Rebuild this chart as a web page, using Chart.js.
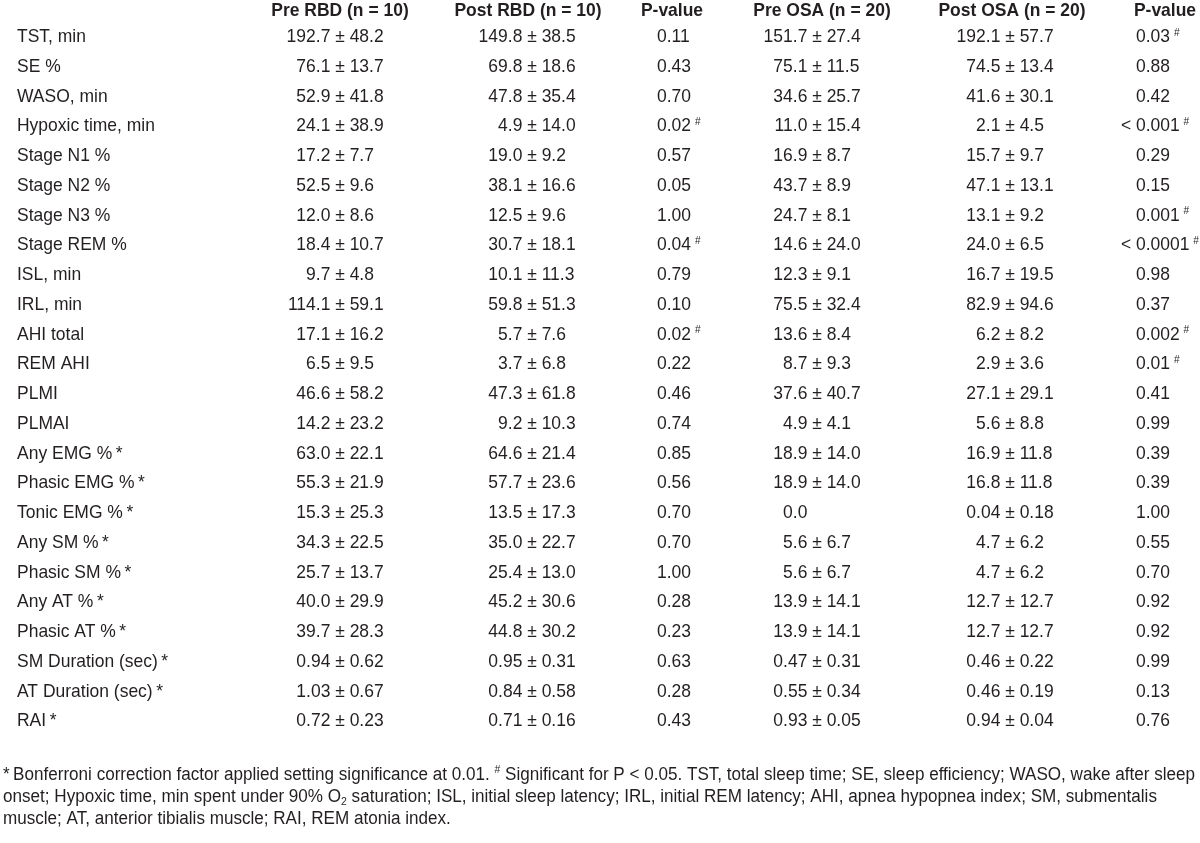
<!DOCTYPE html>
<html>
<head>
<meta charset="utf-8">
<title>Sleep measures, RBD vs OSA</title>
<script src="https://cdn.jsdelivr.net/npm/chart.js@4.4.1/dist/chart.umd.min.js"></script>
<style>
  html, body { margin: 0; padding: 0; background: #fff; }
  #wrap { width: 1200px; height: 843px; position: relative; }
</style>
</head>
<body>
<div id="wrap"><canvas id="tbl"></canvas></div>
<script>
// rows (y categories, top to bottom)
const rowLabels = [
  'TST, min', 'SE %', 'WASO, min', 'Hypoxic time, min', 'Stage N1 %', 'Stage N2 %',
  'Stage N3 %', 'Stage REM %', 'ISL, min', 'IRL, min', 'AHI total', 'REM AHI',
  'PLMI', 'PLMAI', 'Any EMG %\u2009*', 'Phasic EMG %\u2009*', 'Tonic EMG %\u2009*',
  'Any SM %\u2009*', 'Phasic SM %\u2009*', 'Any AT %\u2009*', 'Phasic AT %\u2009*',
  'SM Duration (sec)\u2009*', 'AT Duration (sec)\u2009*', 'RAI\u2009*'
];

const headers = ['Pre RBD (n = 10)', 'Post RBD (n = 10)', 'P-value',
                 'Pre OSA (n = 20)', 'Post OSA (n = 20)', 'P-value'];

// RBD group (mean, sd)
const preRbdMean = ['192.7', '76.1', '52.9', '24.1', '17.2', '52.5', '12.0', '18.4', '9.7', '114.1', '17.1', '6.5',
                    '46.6', '14.2', '63.0', '55.3', '15.3', '34.3', '25.7', '40.0', '39.7', '0.94', '1.03', '0.72'];
const preRbdSd   = ['48.2', '13.7', '41.8', '38.9', '7.7', '9.6', '8.6', '10.7', '4.8', '59.1', '16.2', '9.5',
                    '58.2', '23.2', '22.1', '21.9', '25.3', '22.5', '13.7', '29.9', '28.3', '0.62', '0.67', '0.23'];
const postRbdMean = ['149.8', '69.8', '47.8', '4.9', '19.0', '38.1', '12.5', '30.7', '10.1', '59.8', '5.7', '3.7',
                     '47.3', '9.2', '64.6', '57.7', '13.5', '35.0', '25.4', '45.2', '44.8', '0.95', '0.84', '0.71'];
const postRbdSd   = ['38.5', '18.6', '35.4', '14.0', '9.2', '16.6', '9.6', '18.1', '11.3', '51.3', '7.6', '6.8',
                     '61.8', '10.3', '21.4', '23.6', '17.3', '22.7', '13.0', '30.6', '30.2', '0.31', '0.58', '0.16'];
const rbdP   = ['0.11', '0.43', '0.70', '0.02', '0.57', '0.05', '1.00', '0.04', '0.79', '0.10', '0.02', '0.22',
                '0.46', '0.74', '0.85', '0.56', '0.70', '0.70', '1.00', '0.28', '0.23', '0.63', '0.28', '0.43'];
const rbdSig = [0, 0, 0, 1, 0, 0, 0, 1, 0, 0, 1, 0, 0, 0, 0, 0, 0, 0, 0, 0, 0, 0, 0, 0];

// OSA group (mean, sd)
const preOsaMean = ['151.7', '75.1', '34.6', '11.0', '16.9', '43.7', '24.7', '14.6', '12.3', '75.5', '13.6', '8.7',
                    '37.6', '4.9', '18.9', '18.9', '0.0', '5.6', '5.6', '13.9', '13.9', '0.47', '0.55', '0.93'];
const preOsaSd   = ['27.4', '11.5', '25.7', '15.4', '8.7', '8.9', '8.1', '24.0', '9.1', '32.4', '8.4', '9.3',
                    '40.7', '4.1', '14.0', '14.0', null, '6.7', '6.7', '14.1', '14.1', '0.31', '0.34', '0.05'];
const postOsaMean = ['192.1', '74.5', '41.6', '2.1', '15.7', '47.1', '13.1', '24.0', '16.7', '82.9', '6.2', '2.9',
                     '27.1', '5.6', '16.9', '16.8', '0.04', '4.7', '4.7', '12.7', '12.7', '0.46', '0.46', '0.94'];
const postOsaSd   = ['57.7', '13.4', '30.1', '4.5', '9.7', '13.1', '9.2', '6.5', '19.5', '94.6', '8.2', '3.6',
                     '29.1', '8.8', '11.8', '11.8', '0.18', '6.2', '6.2', '12.7', '12.7', '0.22', '0.19', '0.04'];
const osaP   = ['0.03', '0.88', '0.42', '< 0.001', '0.29', '0.15', '0.001', '< 0.0001', '0.98', '0.37', '0.002', '0.01',
                '0.41', '0.99', '0.39', '0.39', '1.00', '0.55', '0.70', '0.92', '0.92', '0.99', '0.13', '0.76'];
const osaSig = [1, 0, 0, 1, 0, 0, 1, 1, 0, 0, 1, 1, 0, 0, 0, 0, 0, 0, 0, 0, 0, 0, 0, 0];

const footnote = [
  [{ t: '*\u2009Bonferroni correction factor applied setting significance at 0.01. ' }, { t: '#', sup: true },
   { t: ' Significant for P < 0.05. TST, total sleep time; SE, sleep efficiency; WASO, wake after sleep' }],
  [{ t: 'onset; Hypoxic time, min spent under 90% O' }, { t: '2', sub: true },
   { t: ' saturation; ISL, initial sleep latency; IRL, initial REM latency; AHI, apnea hypopnea index; SM, submentalis' }],
  [{ t: 'muscle; AT, anterior tibialis muscle; RAI, REM atonia index.' }]
];

// column placement on the x scale (0..1200): header centres, and the anchor of each cell
// (the ± sign for mean ± sd columns, the left edge of the number for P columns)
const headerX = [340, 528, 672, 822, 1012, 1165];
const cellX   = [340, 532, 657, 817, 1010, 1136];

const INK = '#231f20';
const FONT = "'Liberation Sans', Arimo, Arial, sans-serif";
const SX = 0.92;     // horizontal squeeze -> condensed face
const SIZE = 19;

const columns = [
  { kind: 'pm', mean: preRbdMean, sd: preRbdSd },
  { kind: 'pm', mean: postRbdMean, sd: postRbdSd },
  { kind: 'p', p: rbdP, sig: rbdSig },
  { kind: 'pm', mean: preOsaMean, sd: preOsaSd },
  { kind: 'pm', mean: postOsaMean, sd: postOsaSd },
  { kind: 'p', p: osaP, sig: osaSig }
];

// condensed text helpers
function put(ctx, s, x, y, align, sx = SX) {
  ctx.save();
  ctx.translate(x, y);
  ctx.scale(sx, 1);
  ctx.textAlign = align;
  ctx.fillText(s, 0, 0);
  ctx.restore();
}
function wid(ctx, s, sx = SX) { return ctx.measureText(s).width * sx; }

function drawPm(ctx, x, y, mean, sd) {
  const pm = wid(ctx, '±');
  const sp = wid(ctx, ' ');
  put(ctx, mean, x - pm / 2 - sp, y, 'right');
  if (sd === null) return;
  put(ctx, '±', x, y, 'center');
  put(ctx, sd, x + pm / 2 + sp, y, 'left');
}

function drawP(ctx, x, y, p, sig) {
  let num = p;
  if (p.startsWith('< ')) {
    put(ctx, '< ', x, y, 'right');
    num = p.slice(2);
  }
  put(ctx, num, x, y, 'left');
  if (sig) {
    const w = wid(ctx, num + ' ');
    ctx.save();
    ctx.font = `11px ${FONT}`;
    put(ctx, '#', x + w - 1, y - 4, 'left');
    ctx.restore();
  }
}

const tableText = {
  id: 'tableText',
  afterDatasetsDraw(chart) {
    const ctx = chart.ctx;
    const xs = chart.scales.x, ys = chart.scales.y;
    ctx.save();
    ctx.fillStyle = INK;
    ctx.textBaseline = 'middle';

    // column headers
    ctx.font = `bold ${SIZE}px ${FONT}`;
    headers.forEach((h, ci) => put(ctx, h, xs.getPixelForValue(headerX[ci]), chart.chartArea.top - 11, 'center'));

    // row labels
    ctx.font = `${SIZE}px ${FONT}`;
    rowLabels.forEach((r, i) => put(ctx, r, xs.getPixelForValue(17), ys.getPixelForValue(i), 'left'));

    // cells, at the points placed by the scatter controller
    columns.forEach((col, ci) => {
      chart.getDatasetMeta(ci).data.forEach((pt, i) => {
        if (col.kind === 'pm') drawPm(ctx, pt.x, pt.y, col.mean[i], col.sd[i]);
        else drawP(ctx, pt.x, pt.y, col.p[i], col.sig[i]);
      });
    });
    ctx.restore();
  },
  afterDraw(chart) {
    const ctx = chart.ctx;
    const top = chart.chartArea.bottom + 39;
    ctx.save();
    ctx.fillStyle = INK;
    ctx.textBaseline = 'middle';
    // squeeze the note so its first line fills the width, as in the source
    let natural = 0;
    footnote[0].forEach(seg => {
      ctx.font = `${seg.sup || seg.sub ? 11 : 18}px ${FONT}`;
      natural += ctx.measureText(seg.t).width;
    });
    const fsx = 1192 / natural;
    footnote.forEach((line, li) => {
      let x = 3;
      const y = top + li * 22;
      line.forEach(seg => {
        const small = seg.sup || seg.sub;
        ctx.font = `${small ? 11 : 18}px ${FONT}`;
        const dy = seg.sup ? -5 : seg.sub ? 5 : 0;
        put(ctx, seg.t, x, y + dy, 'left', fsx);
        x += wid(ctx, seg.t, fsx);
      });
    });
    ctx.restore();
  }
};

const whiteBg = {
  id: 'whiteBg',
  beforeDraw(chart) {
    const ctx = chart.ctx;
    ctx.save();
    ctx.fillStyle = '#fff';
    ctx.fillRect(0, 0, chart.width, chart.height);
    ctx.restore();
  }
};

new Chart(document.getElementById('tbl'), {
  type: 'scatter',
  data: {
    datasets: columns.map((col, ci) => ({
      label: headers[ci],
      data: rowLabels.map(r => ({ x: cellX[ci], y: r })),
      pointRadius: 0,
      pointHoverRadius: 0
    }))
  },
  options: {
    responsive: true,
    maintainAspectRatio: false,
    animation: false,
    events: [],
    layout: { padding: { top: 22, left: 0, right: 0, bottom: 107 } },
    plugins: { legend: { display: false }, tooltip: { enabled: false } },
    scales: {
      x: { type: 'linear', display: false, min: 0, max: 1200 },
      y: { type: 'category', display: false, labels: rowLabels, offset: true }
    }
  },
  plugins: [whiteBg, tableText]
});
</script>
</body>
</html>
